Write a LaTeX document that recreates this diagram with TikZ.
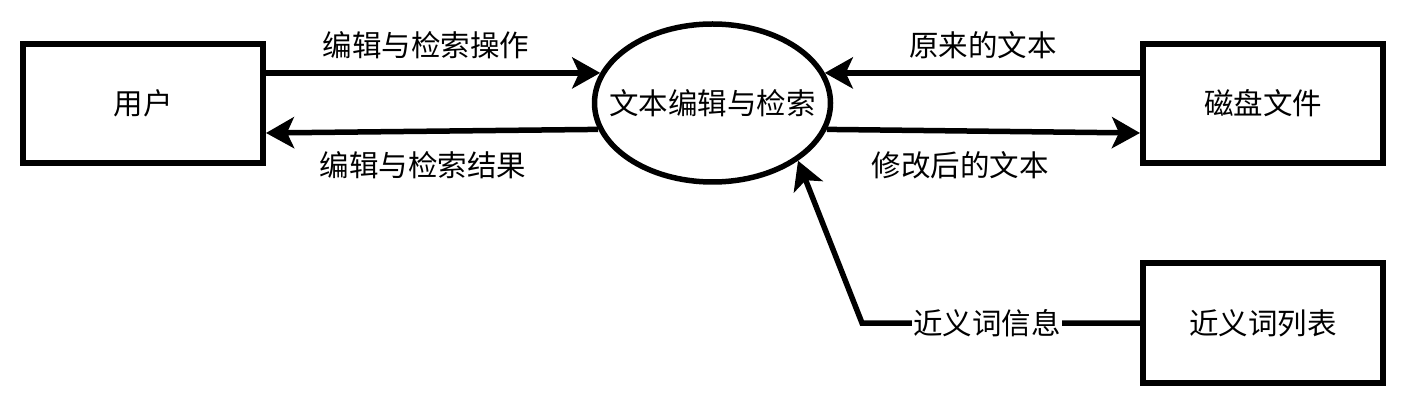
\documentclass[tikz,border=0pt]{standalone}
\usepackage{fontspec}
\setmainfont{Noto Sans CJK SC}
\usetikzlibrary{arrows.meta,shapes.geometric}
\tikzset{
  box/.style={draw,line width=6pt,minimum width=240pt,minimum height=119pt,inner sep=0pt},
  proc/.style={draw,ellipse,line width=5.5pt,minimum width=236pt,minimum height=158pt,inner sep=0pt},
  flow/.style={line width=5.5pt,-{Stealth[length=28pt,width=31pt,inset=7pt]}},
  txt/.style={font=\fontsize{29.5}{34}\selectfont}
}
\begin{document}
\begin{tikzpicture}[x=1pt,y=-1pt,every node/.style={txt}]
    \useasboundingbox (0,0) rectangle (1406,406);
    \node[box] (user) at (143,103.5) {用户};
    \node[proc,label={center:文本编辑与检索}] (edit) at (712.5,103) {};
    \node[box] (disk) at (1263,103.5) {磁盘文件};
    \node[box] (syn) at (1263,323) {近义词列表};
    \coordinate (bend) at (862,323);
    \draw[flow] (user.east |- edit.165) -- (edit.165);
    \draw[flow] (edit.193) -- ([yshift=-29.5pt]user.east);
    \draw[flow] (disk.west |- edit.15) -- (edit.15);
    \draw[flow] (edit.-13) -- ([yshift=-29.5pt]disk.west);
    \draw[flow] (syn.west) -- node[pos=0.55,fill=white,inner sep=1pt] (synInfo) {近义词信息} (bend) -- (edit.-34);
    \node (opIn) at (426,45) {编辑与检索操作};
    \node (opOut) at (423,165) {编辑与检索结果};
    \node (txtOld) at (983,45) {原来的文本};
    \node (txtNew) at (960,165) {修改后的文本};
\end{tikzpicture}
\end{document}
